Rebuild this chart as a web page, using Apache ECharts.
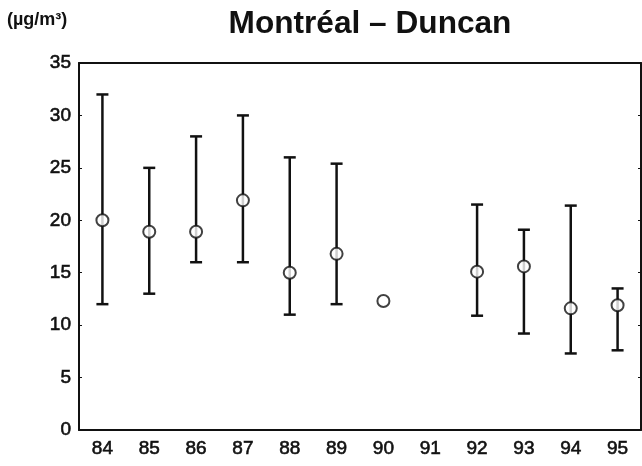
<!DOCTYPE html>
<html>
<head>
<meta charset="utf-8">
<script src="https://cdn.jsdelivr.net/npm/echarts@6/dist/echarts.min.js"></script>
<style>
  html, body { margin: 0; padding: 0; background: #fff; }
  #main { width: 642px; height: 466px; }
</style>
</head>
<body>
<div id="main"></div>
<script>
var years = ['84', '85', '86', '87', '88', '89', '90', '91', '92', '93', '94', '95'];
// mean values (circle), null where no data
var means = [20, 18.9, 18.9, 21.9, 15, 16.8, 12.3, null, 15.1, 15.6, 11.6, 11.9];
// error bar ends, null where no bar
var lows  = [12, 13, 16, 16, 11, 12, null, null, 10.9, 9.2, 7.3, 7.6];
var highs = [32, 25, 28, 30, 26, 25.4, null, null, 21.5, 19.1, 21.4, 13.5];

var ink = '#111';

var barData = [];
for (var i = 0; i < years.length; i++) {
    if (lows[i] != null) barData.push([i, lows[i], highs[i]]);
}

// medium-weight look for tick labels: regular face with a thin outline
var tickText = {
    color: ink,
    fontFamily: 'Liberation Sans',
    fontSize: 19,
    textBorderColor: ink,
    textBorderWidth: 0.6
};

var myChart = echarts.init(document.getElementById('main'));
myChart.setOption({
    animation: false,
    graphic: [{
        type: 'text',
        x: 370,
        y: 24,
        scaleX: 1.02,
        style: {
            text: 'Montréal – Duncan',
            fill: ink,
            font: 'bold 31px "Liberation Sans"',
            align: 'center',
            verticalAlign: 'middle'
        }
    }, {
        type: 'text',
        x: 7,
        y: 20,
        style: {
            text: '(µg/m³)',
            fill: ink,
            font: 'bold 18px "Liberation Sans"',
            align: 'left',
            verticalAlign: 'middle'
        }
    }],
    grid: { left: 79, top: 63, right: 1, bottom: 36 },
    xAxis: [{
        type: 'category',
        data: years,
        position: 'bottom',
        axisLine: { lineStyle: { color: ink, width: 2 } },
        axisTick: { inside: true, length: 3, lineStyle: { color: ink } },
        axisLabel: Object.assign({ margin: 9 }, tickText),
        splitLine: { show: false }
    }, {
        type: 'category',
        data: years,
        position: 'top',
        axisLine: { onZero: false, lineStyle: { color: ink, width: 2 } },
        axisTick: { inside: true, length: 3, lineStyle: { color: ink } },
        axisLabel: { show: false }
    }],
    yAxis: [{
        type: 'value',
        min: 0,
        max: 35,
        interval: 5,
        position: 'left',
        axisLine: { show: true, lineStyle: { color: ink, width: 2 } },
        axisTick: { show: true, inside: true, length: 3, lineStyle: { color: ink } },
        axisLabel: Object.assign({ margin: 8 }, tickText),
        splitLine: { show: false }
    }, {
        type: 'value',
        min: 0,
        max: 35,
        interval: 5,
        position: 'right',
        axisLine: { show: true, onZero: false, lineStyle: { color: ink, width: 2 } },
        axisTick: { show: true, inside: true, length: 3, lineStyle: { color: ink } },
        axisLabel: { show: false },
        splitLine: { show: false }
    }],
    series: [{
        type: 'custom',
        data: barData,
        renderItem: function (params, api) {
            var x = api.value(0);
            var lo = api.coord([x, api.value(1)]);
            var hi = api.coord([x, api.value(2)]);
            var half = 6;
            var style = { stroke: ink, lineWidth: 2.5, fill: null };
            return {
                type: 'group',
                children: [
                    { type: 'line', shape: { x1: lo[0], y1: lo[1], x2: hi[0], y2: hi[1] }, style: style },
                    { type: 'line', shape: { x1: hi[0] - half, y1: hi[1], x2: hi[0] + half, y2: hi[1] }, style: style },
                    { type: 'line', shape: { x1: lo[0] - half, y1: lo[1], x2: lo[0] + half, y2: lo[1] }, style: style }
                ]
            };
        },
        z: 2
    }, {
        type: 'scatter',
        data: means,
        symbol: 'circle',
        symbolSize: 12,
        itemStyle: { color: '#fff', borderColor: ink, borderWidth: 2 },
        z: 3
    }]
});
</script>
</body>
</html>
